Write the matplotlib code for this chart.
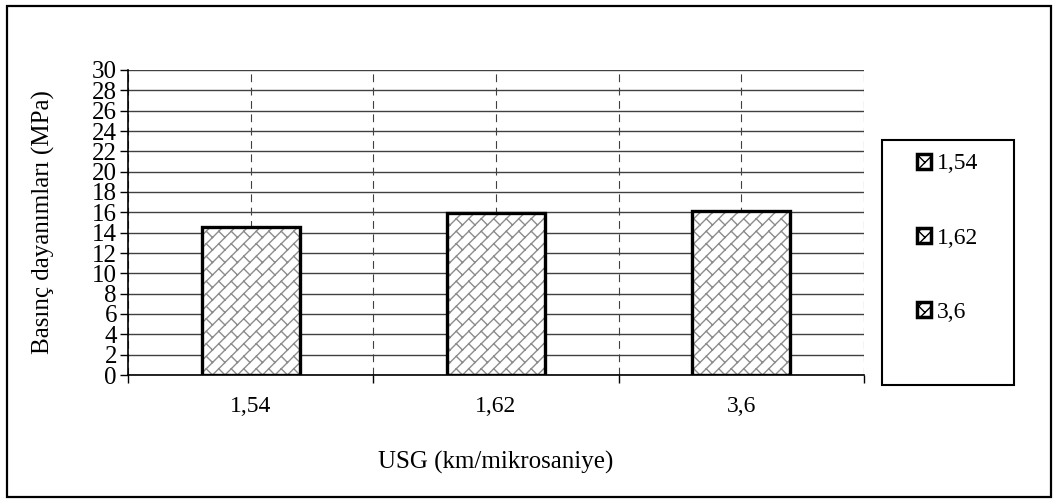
import matplotlib
matplotlib.use("Agg")
import matplotlib.pyplot as plt
from matplotlib.patches import Patch, Rectangle
from matplotlib.path import Path
from matplotlib import hatch as mhatch
import numpy as np

categories = ["1,54", "1,62", "3,6"]
values = [14.6, 15.9, 16.1]
y_ticks = list(range(0, 31, 2))
x_label = "USG (km/mikrosaniye)"
y_label = "Basınç dayanımları (MPa)"


class BrickHatch(mhatch.HatchPatternBase):
    """Diagonal brick pattern, answered for the '/' hatch character."""

    def __init__(self, hatch, density):
        self.segs = []
        if '/' in hatch:
            n = 8          # '/' lines per unit
            m = 4          # bricks per unit along the line
            for k in range(-n - 2, n + 3):
                c0 = k / n
                c1 = (k + 1) / n
                self.segs.append(((-1.0, -1.0 + c0), (2.0, 2.0 + c0)))
                off = 0.0 if k % 2 == 0 else 0.5 / m
                for j in range(-2 * m, 4 * m + 1):
                    s = j / m + off
                    p0 = ((s - c0) / 2, (s + c0) / 2)
                    p1 = ((s - c1) / 2, (s + c1) / 2)
                    self.segs.append((p0, p1))
        self.num_vertices = 2 * len(self.segs)

    def set_vertices_and_codes(self, vertices, codes):
        v = np.array(self.segs, dtype=float).reshape(-1, 2)
        vertices[:] = v
        codes[0::2] = Path.MOVETO
        codes[1::2] = Path.LINETO


mhatch._hatch_types = [BrickHatch]

plt.rcParams['font.family'] = ['Liberation Serif', 'DejaVu Serif']
plt.rcParams['hatch.linewidth'] = 1.0

W, H = 1054, 501
fig = plt.figure(figsize=(W / 100, H / 100), dpi=100)
ax = fig.add_axes([128 / W, 1 - 375 / H, (864 - 128) / W, (375 - 70) / H])

x = np.arange(len(categories))
ax.bar(x, values, width=0.4, facecolor='white', edgecolor='#8c8c8c',
       hatch='/', linewidth=0, zorder=3)
ax.bar(x, values, width=0.4, facecolor='none', edgecolor='black',
       linewidth=2.4, zorder=4)

ax.set_xlim(-0.5, len(categories) - 0.5)
ax.set_ylim(0, 30)
ax.set_yticks(y_ticks)
ax.set_yticklabels([str(t) for t in y_ticks], fontsize=18)

ax.set_xticks(np.arange(-0.5, len(categories), 1.0))
ax.set_xticklabels([])
ax.set_xticks(x, minor=True)
ax.set_xticklabels(categories, minor=True, fontsize=17)

ax.tick_params(axis='y', direction='out', length=6, width=1.0, pad=2)
ax.tick_params(axis='x', which='major', direction='out', length=6, width=1.0)
ax.tick_params(axis='x', which='minor', length=0, pad=15)

ax.grid(axis='y', color='#404040', linewidth=1.0, zorder=1)
ax.grid(axis='x', which='both', color='#404040', linewidth=0.8,
        linestyle=(0, (7, 5)), zorder=1)
ax.set_axisbelow(True)

for s in ['top', 'right']:
    ax.spines[s].set_visible(False)
for s in ['left', 'bottom']:
    ax.spines[s].set_linewidth(1.2)
    ax.spines[s].set_zorder(5)

ax.set_ylabel(y_label, fontsize=18)
ax.yaxis.set_label_coords((43 - 128) / 736, 0.5)
ax.yaxis.label.set_va('center')
ax.set_xlabel(x_label, fontsize=18)
ax.xaxis.set_label_coords(0.5, (375 - 462) / 305)
ax.xaxis.label.set_va('center')

# legend frame
lx0, lx1, ly0, ly1 = 882, 1014, 140, 385
fig.patches.append(Rectangle((lx0 / W, 1 - ly1 / H), (lx1 - lx0) / W,
                             (ly1 - ly0) / H, transform=fig.transFigure,
                             facecolor='white', edgecolor='black',
                             linewidth=1.5))
handles = [Patch(facecolor='white', edgecolor='black', hatch='/',
                 linewidth=2.5) for _ in categories]
fig.legend(handles, categories, loc='center',
           bbox_to_anchor=((lx0 + lx1) / 2 / W, 1 - 238 / H),
           frameon=False, fontsize=17, handlelength=0.6,
           handleheight=0.6, handletextpad=0.25, labelspacing=2.25,
           borderpad=0, borderaxespad=0)

# outer chart border
fig.patches.append(Rectangle((7 / W, 1 - 497 / H), (1051 - 7) / W, (497 - 6) / H,
                             transform=fig.transFigure, facecolor='none',
                             edgecolor='black', linewidth=1.6))

fig.savefig("out.png", dpi=100, facecolor='white')
